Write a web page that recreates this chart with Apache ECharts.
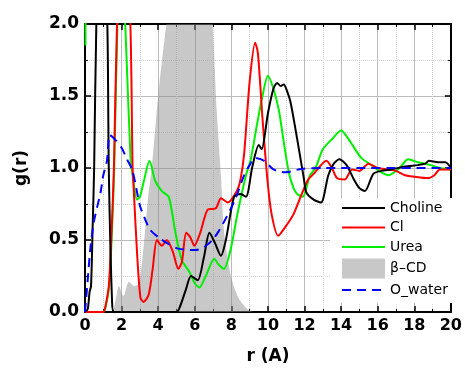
<!DOCTYPE html>
<html>
<head>
<meta charset="utf-8">
<script src="https://cdn.jsdelivr.net/npm/echarts@6/dist/echarts.min.js"></script>
<style>
  html, body { margin: 0; padding: 0; background: #fff; }
  #main { width: 465px; height: 370px; }
</style>
</head>
<body>
<div id="main"></div>
<script>
// g(r) curves, pairs of [r, g]
var choline = [[0,0],[0.15,0.02],[0.25,0.14],[0.33,0.18],[0.42,0.6],[0.5,1.0],[0.62,2.0],[0.9,3.0],[1.22,2.0],[1.3,1.0],[1.48,0.07],[1.6,0],[5.0,0],[5.2,0.04],[5.5,0.15],[5.8,0.25],[6.16,0.22],[6.5,0.38],[6.8,0.55],[7.1,0.48],[7.43,0.39],[7.7,0.5],[8.15,0.8],[8.5,0.82],[8.8,0.8],[9.15,1.01],[9.5,1.16],[9.66,1.13],[10.0,1.38],[10.3,1.55],[10.5,1.59],[10.7,1.57],[10.87,1.58],[11.0,1.55],[11.23,1.46],[11.6,1.2],[11.96,0.93],[12.1,0.83],[12.5,0.78],[12.9,0.76],[13.3,0.95],[13.6,1.03],[13.9,1.06],[14.3,1.02],[14.7,0.92],[15.0,0.86],[15.3,0.84],[15.76,0.96],[16.2,0.98],[16.75,0.99],[17.5,1.01],[18.2,1.02],[18.6,1.03],[18.8,1.05],[19.3,1.04],[19.7,1.04],[20,1.0]];
var cl = [[0,0],[1.0,0],[1.1,0.03],[1.3,0.18],[1.45,0.55],[1.58,1.0],[1.75,2.0],[2.1,3.0],[2.48,2.0],[2.6,1.01],[2.66,0.86],[2.85,0.4],[3.03,0.1],[3.2,0.07],[3.48,0.12],[3.7,0.3],[3.93,0.5],[4.2,0.46],[4.47,0.5],[4.8,0.42],[5.1,0.3],[5.3,0.35],[5.53,0.55],[5.75,0.52],[5.98,0.46],[6.3,0.55],[6.7,0.71],[7.15,0.72],[7.43,0.79],[7.8,0.76],[8.3,0.84],[8.5,0.92],[8.7,1.1],[9.0,1.6],[9.3,1.87],[9.45,1.8],[9.7,1.35],[9.97,0.92],[10.2,0.68],[10.56,0.53],[11.0,0.6],[11.4,0.68],[11.85,0.82],[12.2,0.92],[12.5,0.96],[13.2,1.05],[13.5,1.0],[13.77,0.93],[14.2,0.92],[14.6,0.99],[15.0,0.98],[15.5,1.03],[16.0,1.0],[16.5,0.99],[17.0,0.98],[17.5,0.95],[18.0,0.94],[18.75,0.93],[19.1,0.95],[19.4,0.99],[20,0.99]];
var urea = [[0,2.8],[0.03,1.85],[0.04,'-'],[1.02,0],[1.12,0.03],[1.32,0.18],[1.47,0.55],[1.6,1.0],[1.77,2.0],[2.0,2.6],[2.2,2.0],[2.5,1.03],[2.57,0.98],[2.84,0.78],[3.0,0.8],[3.2,0.9],[3.53,1.05],[3.84,0.91],[4.2,0.84],[4.57,0.8],[4.75,0.7],[4.93,0.56],[5.29,0.36],[5.7,0.28],[6.0,0.2],[6.25,0.17],[6.6,0.25],[7.07,0.37],[7.3,0.33],[7.6,0.3],[7.97,0.44],[8.33,0.68],[8.8,0.95],[9.06,1.06],[9.4,1.3],[9.7,1.5],[10.0,1.64],[10.3,1.55],[10.6,1.4],[10.9,1.15],[11.14,0.97],[11.4,0.86],[11.6,0.82],[11.9,0.8],[12.3,0.95],[12.6,1.0],[13.0,1.13],[13.5,1.2],[14.0,1.26],[14.3,1.22],[14.67,1.15],[15.1,1.07],[15.76,1.01],[16.2,0.97],[16.6,0.95],[17.2,1.0],[17.66,1.06],[18.2,1.04],[18.9,1.02],[19.4,1.0],[20,0.99]];
var betaCD = [[1.55,0],[1.7,0.1],[1.85,0.18],[2.1,0.11],[2.4,0.21],[2.7,0.18],[2.95,0.2],[3.2,0.45],[3.45,0.8],[3.65,1.0],[4.0,1.5],[4.45,2.0],[5.0,2.5],[6.0,2.6],[6.6,2.4],[6.97,2.0],[7.2,1.4],[7.43,0.95],[7.6,0.56],[7.97,0.25],[8.42,0.09],[8.97,0.01],[9.2,0]];
var oWater = [[0,0],[0.1,0.15],[0.3,0.45],[0.49,0.63],[0.85,0.83],[1.0,0.95],[1.2,1.05],[1.36,1.23],[1.7,1.19],[2.0,1.14],[2.3,1.06],[2.6,0.98],[3.0,0.74],[3.3,0.64],[3.57,0.57],[4.1,0.51],[4.6,0.47],[5.1,0.44],[6.07,0.43],[6.5,0.45],[6.97,0.5],[7.3,0.56],[7.7,0.65],[8.2,0.78],[8.7,0.95],[9.0,1.02],[9.3,1.07],[9.8,1.05],[10.3,0.99],[10.96,0.97],[11.86,0.995],[13,1.0],[20,1.0]];

var legendNames = ['Choline', 'Cl', 'Urea', 'β–CD', 'O_water'];

var chartDom = document.getElementById('main');
var myChart = echarts.init(chartDom);

var font = 'DejaVu Sans';
var tickStyle = { show: true, inside: true, length: 6, lineStyle: { color: '#000', width: 1.5 } };
var minorTickStyle = { show: true, splitNumber: 2, length: 3, lineStyle: { color: '#000', width: 1 } };

function lineSeries(name, data, color, extra) {
  var s = {
    name: name,
    type: 'line',
    data: data,
    showSymbol: false,
    symbol: 'none',
    smooth: 0.25,
    clip: true,
    connectNulls: false,
    itemStyle: { color: color },
    lineStyle: { color: color, width: 2 }
  };
  return Object.assign(s, extra || {});
}

var option = {
  animation: false,
  backgroundColor: '#fff',
  grid: { left: 85, top: 24, right: 12, bottom: 50 },
  legend: {
    orient: 'vertical',
    left: 330,
    top: 198,
    padding: [2, 12, 5, 2],
    itemWidth: 43,
    itemHeight: 20,
    itemGap: 3.5,
    backgroundColor: '#fff',
    itemStyle: { opacity: 0 },
    textStyle: { fontFamily: font, fontSize: 14, color: '#000' },
    data: [
      { name: legendNames[0] },
      { name: legendNames[1] },
      { name: legendNames[2] },
      { name: legendNames[3], lineStyle: { width: 20, color: '#c8c8c8', cap: 'butt', opacity: 1 } },
      { name: legendNames[4] }
    ]
  },
  xAxis: [
    {
      type: 'value', min: 0, max: 20, interval: 2, position: 'bottom',
      name: 'r (A)', nameLocation: 'middle', nameGap: 36,
      nameTextStyle: { fontFamily: font, fontWeight: 'bold', fontSize: 17, color: '#000' },
      axisLine: { show: true, onZero: false, lineStyle: { color: '#000', width: 2 } },
      axisTick: tickStyle, minorTick: minorTickStyle,
      axisLabel: { fontFamily: font, fontWeight: 'bold', fontSize: 16, color: '#000', margin: 6 },
      splitLine: { show: true, lineStyle: { color: '#bbb', width: 1 } },
      minorSplitLine: { show: true, lineStyle: { color: '#d4d4d4', width: 1, type: 'dotted' } }
    },
    {
      type: 'value', min: 0, max: 20, interval: 2, position: 'top',
      axisLine: { show: true, onZero: false, lineStyle: { color: '#000', width: 2 } },
      axisTick: tickStyle, minorTick: minorTickStyle,
      axisLabel: { show: false }, splitLine: { show: false }
    }
  ],
  yAxis: [
    {
      type: 'value', min: 0, max: 2, interval: 0.5, position: 'left',
      name: 'g(r)', nameLocation: 'middle', nameGap: 55,
      nameTextStyle: { fontFamily: font, fontWeight: 'bold', fontSize: 17, color: '#000' },
      axisLine: { show: true, onZero: false, lineStyle: { color: '#000', width: 2 } },
      axisTick: tickStyle, minorTick: minorTickStyle,
      axisLabel: { fontFamily: font, fontWeight: 'bold', fontSize: 17, color: '#000', margin: 6,
        formatter: function (v) { return v.toFixed(1); } },
      splitLine: { show: true, lineStyle: { color: '#bbb', width: 1 } },
      minorSplitLine: { show: true, lineStyle: { color: '#d4d4d4', width: 1, type: 'dotted' } }
    },
    {
      type: 'value', min: 0, max: 2, interval: 0.5, position: 'right',
      axisLine: { show: true, onZero: false, lineStyle: { color: '#000', width: 2 } },
      axisTick: tickStyle, minorTick: minorTickStyle,
      axisLabel: { show: false }, splitLine: { show: false }
    }
  ],
  series: [
    lineSeries(legendNames[3], betaCD, '#c8c8c8', {
      lineStyle: { width: 0 },
      areaStyle: { color: 'rgba(140,140,140,0.48)', opacity: 1 }
    }),
    lineSeries(legendNames[2], urea, '#00ee00'),
    lineSeries(legendNames[1], cl, '#ff0000'),
    lineSeries(legendNames[0], choline, '#000000'),
    lineSeries(legendNames[4], oWater, '#0000ff', {
      lineStyle: { color: '#0000ff', width: 2, type: [9, 6] }
    })
  ]
};

myChart.setOption(option);
</script>
</body>
</html>
